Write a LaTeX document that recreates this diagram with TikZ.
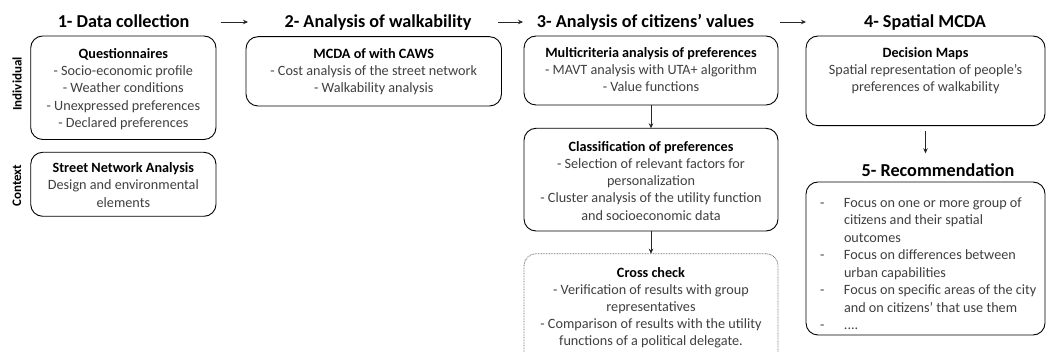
\documentclass[tikz,border=0pt]{standalone}
\usepackage{fontspec}
\setmainfont{Carlito}
\usetikzlibrary{arrows.meta}
\definecolor{bodygray}{HTML}{404040}
\newcommand\panel[4]{\begin{minipage}[c][#1][t]{#2}\centering\vspace*{#3}\strut#4\end{minipage}}
\newcommand\hd[1]{\textcolor{black}{\bfseries #1}}
\newcommand\recdash{\hspace*{14pt}\makebox[24pt][l]{-}}
\newcommand\recind{\hspace*{38pt}}
\tikzset{
  box/.style={draw=black, line width=0.9pt, rounded corners=12pt, anchor=north west,
    inner sep=0pt, outer sep=0pt, text=bodygray, font=\fontsize{14.2}{17.2}\selectfont},
  dotbox/.style={box, draw=black!55, dash pattern=on 0.8pt off 0.8pt, line width=0.8pt},
  title/.style={anchor=base, inner sep=0pt, font=\fontsize{18.2}{21}\selectfont\bfseries,
    text height=14pt, text depth=2pt},
  side/.style={rotate=90, inner sep=0pt, font=\fontsize{13}{15}\selectfont\bfseries},
  link/.style={draw=black!85, line width=0.7pt, -{Stealth[length=5pt,width=4.5pt]}},
}
\begin{document}
\begin{tikzpicture}[x=1pt,y=-1pt]
\clip (0,0) rectangle (1049,352);
\fill[white] (0,0) rectangle (1049,352);
% titles
\node[title] (t1) at (123.6,28) {1- Data collection};
\node[title] (t2) at (378,28) {2- Analysis of walkability};
\node[title] (t3) at (645.5,28) {3- Analysis of citizens’ values};
\node[title] (t4) at (925,28) {4- Spatial MCDA};
\node[title] (t5) at (938,176.5) {5- Recommendation};
% side labels
\node[side] (ind) at (17,84) {Individual};
\node[side] (ctx) at (17,185.5) {Context};
% boxes
\node[box] (quest) at (30.7,36) {\panel{103.5pt}{185.3pt}{10.5pt}{\hd{Questionnaires}\\
  - Socio-economic profile\\- Weather conditions\\- Unexpressed preferences\\- Declared preferences}};
\node[box] (street) at (30.7,152.3) {\panel{64pt}{185.3pt}{8.4pt}{\hd{Street Network Analysis}\\
  Design and environmental\\elements}};
\node[box] (mcda) at (246,36.7) {\panel{69.3pt}{255.5pt}{9.6pt}{\hd{MCDA of with CAWS}\\
  - Cost analysis of the street network\\- Walkability analysis}};
\node[box] (multi) at (524,36) {\panel{69pt}{254pt}{9pt}{\hd{Multicriteria analysis of preferences}\\
  - MAVT analysis with UTA+ algorithm\\- Value functions}};
\node[box] (class) at (524,128.3) {\panel{102.7pt}{254pt}{11pt}{\hd{Classification of preferences}\\
  - Selection of relevant factors for\\personalization\\- Cluster analysis of the utility function\\and socioeconomic data}};
\node[dotbox] (cross) at (524,253.7) {\panel{112pt}{254pt}{11.4pt}{\hd{Cross check}\\
  - Verification of results with group\\representatives\\- Comparison of results with the utility\\functions of a political delegate.}};
\node[box] (dm) at (806,36) {\panel{89.7pt}{239pt}{9pt}{\hd{Decision Maps}\\
  Spatial representation of people’s\\preferences of walkability}};
\node[box] (rec) at (806,182) {\begin{minipage}[c][153pt][t]{239pt}\fontsize{14.2}{17.5}\selectfont\raggedright
  \vspace*{13pt}\strut\recdash Focus on one or more group of\\
  \recind citizens and their spatial\\
  \recind outcomes\\
  \recdash Focus on differences between\\
  \recind urban capabilities\\
  \recdash Focus on specific areas of the city\\
  \recind and on citizens’ that use them\\
  \recdash ....\end{minipage}};
% connectors
\draw[link, shorten <=97pt, shorten >=130pt] (t1.center) -- (t2.center);
\draw[link, shorten <=120pt, shorten >=122.5pt] (t2.center) -- (t3.center);
\draw[link, shorten <=134.5pt, shorten >=119pt] (t3.center) -- (t4.center);
\draw[link] (multi.south) -- (class.north);
\draw[link] (class.south) -- (cross.north);
\draw[link, shorten <=5pt, shorten >=9pt] (dm.south) -- (dm.south |- t5.north);
\end{tikzpicture}
\end{document}
